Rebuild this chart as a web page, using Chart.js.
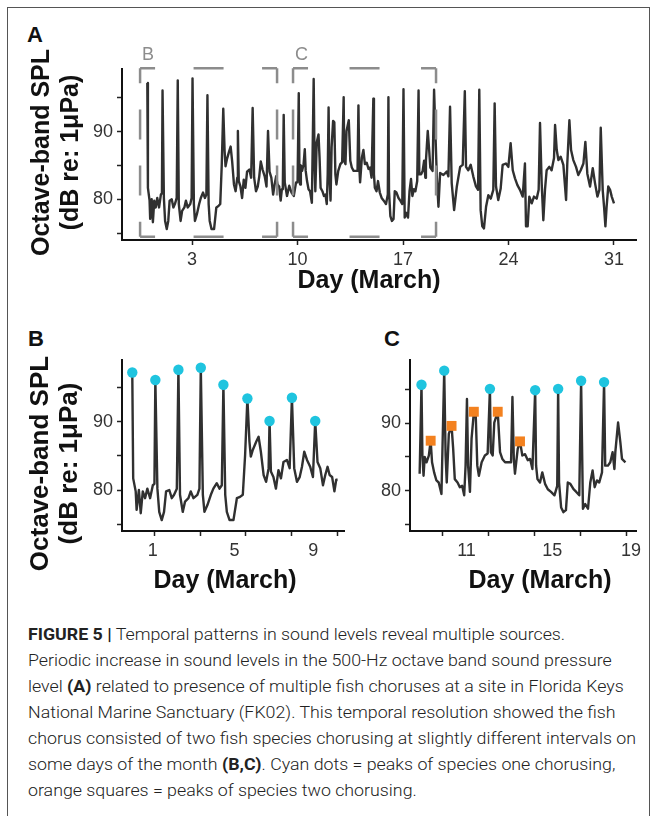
<!DOCTYPE html>
<html>
<head>
<meta charset="utf-8">
<title>Figure 5 - octave-band SPL</title>
<script src="https://cdn.jsdelivr.net/npm/chart.js@4.4.1/dist/chart.umd.min.js"></script>
<style>
  body { margin: 0; width: 657px; height: 816px; overflow: hidden; position: relative; background: #fff;
         font-family: 'Liberation Sans', Arial, sans-serif; }
  .frame { position: absolute; left: 7px; top: 7px; width: 643px; height: 840px; border: 1px solid #555; box-sizing: border-box; }
  canvas { position: absolute; }
  .panel { position: absolute; font-weight: bold; font-size: 22px; line-height: 1; color: #111; }
  .caption { position: absolute; left: 28px; top: 621px; transform-origin: 0 0; color: #222;
             font-family: Roboto, 'Liberation Sans', sans-serif; font-weight: 300; font-size: 17px; line-height: 26px; }
  .caption div { white-space: nowrap; }
  .caption span { display: inline-block; }
  .caption b { font-weight: 700; }
</style>
</head>
<body>
<div class="frame"></div>
<div class="panel" style="left:27px; top:24px;">A</div>
<div class="panel" style="left:28px; top:328px;">B</div>
<div class="panel" style="left:384px; top:328px;">C</div>

<canvas id="chartA" width="657" height="300" style="left:0; top:0;"></canvas>
<canvas id="chartB" width="350" height="310" style="left:0; top:300px;"></canvas>
<canvas id="chartC" width="317" height="310" style="left:340px; top:300px;"></canvas>

<div class="caption" id="caption">
  <div><span><b>FIGURE 5 |</b> Temporal patterns in sound levels reveal multiple sources.</span></div>
  <div><span>Periodic increase in sound levels in the 500-Hz octave band sound pressure</span></div>
  <div><span>level <b>(A)</b> related to presence of multiple fish choruses at a site in Florida Keys</span></div>
  <div><span>National Marine Sanctuary (FK02). This temporal resolution showed the fish</span></div>
  <div><span id="widest">chorus consisted of two fish species chorusing at slightly different intervals on</span></div>
  <div><span>some days of the month <b>(B,C)</b>. Cyan dots = peaks of species one chorusing,</span></div>
  <div><span>orange squares = peaks of species two chorusing.</span></div>
</div>

<script>
// ---- data: day of March (real time, peaks fall once a day) and 500-Hz octave-band SPL (dB) ----
const splDays = [
  0.03, 0.07, 0.18, 0.22, 0.32, 0.40, 0.49, 0.59, 0.69, 0.81, 0.93, 1.00,
  1.04, 1.13, 1.21, 1.32, 1.42, 1.51, 1.65, 1.76, 1.86, 1.98,
  2.05, 2.12, 2.24, 2.34, 2.49, 2.59, 2.71, 2.88, 2.97,
  3.03, 3.12, 3.19, 3.32, 3.47, 3.58, 3.73, 3.85, 3.95,
  4.02, 4.10, 4.17, 4.29, 4.46, 4.61, 4.75, 4.87, 4.97,
  5.07, 5.16, 5.22, 5.31, 5.46, 5.56, 5.66, 5.78, 5.89, 6.00,
  6.04, 6.10, 6.21, 6.32, 6.43, 6.54, 6.65, 6.80, 6.92,
  7.02, 7.12, 7.24, 7.36, 7.46, 7.56, 7.68, 7.82, 7.94,
  8.04, 8.14, 8.26, 8.38, 8.48, 8.58, 8.67, 8.78, 8.88, 8.96, 9.02,
  9.08, 9.15, 9.30, 9.45, 9.60, 9.75, 9.90, 10.00,
  10.08, 10.12, 10.17, 10.22, 10.30, 10.40, 10.48, 10.54, 10.63, 10.73, 10.83, 10.95,
  11.07, 11.13, 11.18, 11.27, 11.39, 11.46, 11.53, 11.65, 11.75, 11.85, 11.94, 12.00,
  12.06, 12.11, 12.19, 12.26, 12.36, 12.44, 12.51, 12.58, 12.70, 12.84, 12.96,
  13.06, 13.10, 13.18, 13.25, 13.40, 13.50, 13.60, 13.72, 13.86, 13.98,
  14.04, 14.10, 14.15, 14.27, 14.37, 14.47, 14.59, 14.71, 14.81, 14.91,
  15.03, 15.07, 15.13, 15.24, 15.34, 15.46, 15.58, 15.72, 15.87, 15.99,
  16.03, 16.07, 16.16, 16.26, 16.37, 16.45, 16.56, 16.70, 16.82, 16.95,
  17.03, 17.11, 17.21, 17.33, 17.43, 17.53, 17.62, 17.72, 17.82, 17.94,
  18.03, 18.08, 18.20, 18.30, 18.40, 18.48, 18.52, 18.64, 18.74, 18.81, 18.96,
  19.06, 19.24, 19.35, 19.46, 19.68, 19.90, 20.01,
  20.12, 20.23, 20.39, 20.57, 20.79, 20.96,
  21.10, 21.18, 21.33, 21.49, 21.66, 21.84, 21.98,
  22.06, 22.15, 22.26, 22.37, 22.51, 22.66, 22.82, 22.99,
  23.08, 23.17, 23.32, 23.48, 23.61, 23.83, 23.99,
  24.14, 24.28, 24.43, 24.59, 24.76, 24.94, 25.09, 25.16, 25.27, 25.38, 25.54, 25.69, 25.87, 26.00,
  26.09, 26.20, 26.31, 26.42, 26.53, 26.71, 26.86, 27.02,
  27.09, 27.20, 27.31, 27.46, 27.64, 27.82, 27.90,
  28.04, 28.15, 28.30, 28.48, 28.63, 28.79, 28.97,
  29.10, 29.23, 29.41, 29.59, 29.74, 29.90, 30.03,
  30.12, 30.25, 30.34, 30.43, 30.51, 30.62, 30.74, 30.85, 31.00
];
const splValues = [
  97.2, 81.7, 79.8, 77.1, 80.0, 76.6, 79.8, 78.8, 80.2, 78.8, 80.7, 80.9,
  96.1, 80.2, 76.8, 75.6, 76.8, 79.8, 80.0, 78.8, 79.3, 80.2,
  97.6, 79.3, 76.8, 78.3, 78.8, 79.8, 78.8, 79.3, 80.2,
  97.9, 79.3, 76.8, 77.8, 79.3, 80.2, 81.0, 80.2, 80.7,
  95.4, 79.3, 76.8, 75.6, 75.6, 78.8, 79.0, 79.3, 85.1,
  93.4, 87.1, 84.9, 85.9, 87.1, 87.8, 85.6, 82.2, 81.2, 83.2,
  90.1, 82.7, 81.9, 80.2, 82.9, 81.7, 84.1, 84.4, 83.2,
  93.5, 83.2, 81.2, 81.9, 83.4, 85.6, 84.4, 83.4, 81.9,
  90.1, 84.1, 83.2, 80.7, 82.2, 83.4, 82.2, 81.9, 79.8, 81.5, 81.5,
  92.5, 82.5, 80.5, 82.0, 81.0, 80.5, 82.5, 82.5,
  95.7, 85.2, 82.2, 85.0, 84.2, 85.2, 87.4, 84.2, 82.7, 81.5, 81.2, 79.5,
  97.8, 85.2, 81.2, 88.4, 89.6, 86.2, 81.7, 81.2, 80.5, 80.7, 79.3, 83.7,
  93.6, 83.7, 79.8, 87.7, 91.6, 91.4, 83.7, 82.2, 84.2, 85.2, 85.5,
  95.1, 85.7, 85.2, 90.1, 91.7, 85.7, 84.7, 84.2, 84.2, 84.2,
  93.9, 84.7, 82.5, 86.2, 87.3, 85.2, 85.4, 84.5, 84.7, 83.2,
  94.9, 83.7, 81.7, 81.2, 82.7, 81.0, 80.2, 79.8, 79.3, 80.7,
  95.1, 81.2, 77.5, 76.8, 77.1, 81.2, 81.0, 80.2, 79.8, 79.3,
  96.3, 77.3, 78.0, 77.3, 81.2, 83.0, 80.5, 81.5, 81.2, 82.7,
  96.1, 83.7, 83.7, 84.2, 85.7, 83.2, 85.7, 90.1, 87.1, 84.7, 84.2,
  96.2, 83.4, 78.9, 83.9, 83.6, 84.1, 83.4,
  93.7, 82.4, 78.4, 81.9, 84.8, 85.1,
  96.0, 84.8, 84.3, 85.1, 83.4, 81.9, 81.4,
  96.2, 78.4, 76.0, 75.7, 78.9, 80.6, 80.1, 81.4,
  94.2, 81.9, 79.9, 81.6, 85.1, 85.3, 84.8,
  88.3, 84.3, 83.1, 82.1, 81.4, 80.4, 85.3, 76.0, 76.0, 80.4, 79.4, 80.4, 80.1, 81.4,
  91.3, 82.4, 76.9, 81.4, 84.3, 84.8, 84.3, 86.1,
  91.0, 87.3, 85.8, 86.3, 85.1, 79.9, 85.3,
  91.7, 87.3, 85.8, 84.8, 83.6, 84.3, 85.3,
  88.5, 83.8, 81.9, 84.6, 82.4, 80.4, 81.4,
  90.6, 81.4, 78.9, 76.0, 78.9, 81.9, 81.4, 80.4, 79.4
];

// chorus peaks marked in panels B and C
const cyanDaysB = [0.03, 1.04, 2.05, 3.03, 4.02, 5.07, 6.04, 7.02, 8.04];
const cyanSplB  = [97.2, 96.1, 97.6, 97.9, 95.4, 93.4, 90.1, 93.5, 90.1];
const cyanDaysC = [10.08, 11.07, 13.06, 15.03, 16.03, 17.03, 18.03];
const cyanSplC  = [95.7, 97.8, 95.1, 94.9, 95.1, 96.3, 96.1];
const orangeDaysC = [10.48, 11.39, 12.36, 13.40, 14.37];
const orangeSplC  = [87.4, 89.6, 91.7, 91.7, 87.3];

// axis ticks
const yTicks = [75, 80, 85, 90, 95];
const yTickLabels = ['80', '90'];
const aTickDays = [3, 10, 17, 24, 31];
const bMarkDays = [1, 3, 5, 7, 9];
const bLabelDays = [0.93, 4.51, 7.95];
const bTickLabels = ['1', '5', '9'];
const cMarkDays = [11, 13, 15, 17, 19];
const cLabelDays = [12.04, 15.77, 19.2];
const cTickLabels = ['11', '15', '19'];

// zoom windows shown in A (days) and the part of the record each panel plots
const boxDays = [[-0.45, 8.64], [9.7, 19.19]];
const boxSpl = [74.45, 99.4];
const boxNames = ['B', 'C'];
const rangeB = [0, 9.02];
const rangeC = [10, 18.97];

const X_TITLE = 'Day (March)';
const Y_TITLE = ['Octave-band SPL', '(dB re: 1μPa)'];

const FONT = "'Liberation Sans', Arial, sans-serif";
const INK = '#303030';
const CYAN = '#1fc4df';
const ORANGE = '#f3811f';

function points(xs, ys, from, to) {
  const out = [];
  xs.forEach((x, i) => { if (x >= from && x <= to) out.push({ x: x, y: ys[i] }); });
  return out;
}

function dashedSide(ctx, x1, y1, x2, y2) {
  const len = Math.hypot(x2 - x1, y2 - y1), dash = 30;
  const n = Math.max(1, Math.round(len / 60)), period = len / n;
  ctx.setLineDash([dash, period - dash]);
  ctx.lineDashOffset = dash / 2;
  ctx.beginPath();
  ctx.moveTo(x1, y1);
  ctx.lineTo(x2, y2);
  ctx.stroke();
}

// dashed rectangles marking the windows of panels B and C
const zoomBoxes = {
  id: 'zoomBoxes',
  afterDatasetsDraw(chart) {
    const { ctx, scales: { x, y } } = chart;
    ctx.save();
    ctx.strokeStyle = '#8c8c8c';
    ctx.fillStyle = '#8c8c8c';
    ctx.lineWidth = 2.5;
    ctx.font = '18px ' + FONT;
    ctx.textAlign = 'left';
    ctx.textBaseline = 'bottom';
    boxDays.forEach((b, i) => {
      const l = x.getPixelForValue(b[0]), r = x.getPixelForValue(b[1]);
      const t = y.getPixelForValue(boxSpl[1]), btm = y.getPixelForValue(boxSpl[0]);
      dashedSide(ctx, l, t, r, t);
      dashedSide(ctx, l, btm, r, btm);
      dashedSide(ctx, l, t, l, btm);
      dashedSide(ctx, r, t, r, btm);
      ctx.fillText(boxNames[i], l + 2, t - 4);
    });
    ctx.restore();
  }
};

// axis titles; the printed figure has them a little off the axis centres
const axisTitles = {
  id: 'axisTitles',
  afterDraw(chart, args, o) {
    const { ctx, chartArea: area } = chart;
    ctx.save();
    ctx.fillStyle = '#111';
    ctx.textAlign = 'center';
    ctx.textBaseline = 'middle';
    ctx.font = 'bold 25px ' + FONT;
    ctx.fillText(X_TITLE, (area.left + area.right) / 2 + o.xShift, o.xTitleY);
    if (o.yTitle) {
      ctx.font = 'bold ' + o.ySize + 'px ' + FONT;
      ctx.translate(0, (area.top + area.bottom) / 2 + o.yShift);
      ctx.rotate(-Math.PI / 2);
      Y_TITLE.forEach((t, i) => ctx.fillText(t, 0, o.yTitleX[i]));
    }
    ctx.restore();
  }
};

const tickFont = { family: FONT, size: 18 };

function xScale(min, max, markDays, labelDays, labels, height) {
  const values = Array.from(new Set(markDays.concat(labelDays))).sort((a, b) => a - b);
  return {
    type: 'linear',
    min: min,
    max: max,
    afterBuildTicks: s => { s.ticks = values.map(v => ({ value: v })); },
    afterFit: s => { s.height = height; },
    ticks: {
      autoSkip: false, maxRotation: 0, padding: 4, color: '#333', font: tickFont,
      callback: v => { const i = labelDays.indexOf(v); return i >= 0 ? labels[i] : ''; }
    },
    grid: {
      drawOnChartArea: false, tickLength: 5, tickWidth: 1.5,
      tickColor: c => (c.tick && markDays.includes(c.tick.value)) ? '#222' : 'rgba(0,0,0,0)'
    },
    border: { color: '#111', width: 2 }
  };
}

function yScale(min, max, width) {
  return {
    type: 'linear',
    min: min,
    max: max,
    afterBuildTicks: s => { s.ticks = yTicks.map(v => ({ value: v })); },
    afterFit: s => { s.width = width; },
    ticks: {
      padding: 4, color: '#333', font: tickFont,
      callback: v => yTickLabels.includes(String(v)) ? String(v) : ''
    },
    grid: { drawOnChartArea: false, tickLength: 5, tickWidth: 1.5, tickColor: '#222' },
    border: { color: '#111', width: 2 }
  };
}

function lineSet(from, to) {
  return {
    data: points(splDays, splValues, from, to),
    showLine: true, borderColor: INK, borderWidth: 2.4, pointRadius: 0, tension: 0,
    borderJoinStyle: 'round'
  };
}

function markerSet(xs, ys, style, color, radius) {
  return {
    data: points(xs, ys, -Infinity, Infinity),
    showLine: false, pointStyle: style, pointRadius: radius,
    pointBackgroundColor: color, pointBorderWidth: 0
  };
}

function makeChart(id, datasets, x, y, padding, titles, extra) {
  return new Chart(document.getElementById(id), {
    type: 'scatter',
    data: { datasets: datasets },
    options: {
      responsive: false,
      animation: false,
      events: [],
      layout: { padding: padding },
      plugins: { legend: { display: false }, tooltip: { enabled: false }, axisTitles: titles },
      scales: { x: x, y: y }
    },
    plugins: [axisTitles].concat(extra || [])
  });
}

// A: whole month
makeChart('chartA',
  [lineSet(-Infinity, Infinity)],
  xScale(-1.65, 32.46, aTickDays, aTickDays, aTickDays.map(String), 60),
  yScale(73.98, 99.28, 102),
  { left: 20, right: 21, top: 69, bottom: 0 },
  { xShift: -10, xTitleY: 281, yTitle: true, ySize: 25, yShift: -2, yTitleX: [42, 71] },
  [zoomBoxes]);

// B: 1-9 March, species one
makeChart('chartB',
  [markerSet(cyanDaysB, cyanSplB, 'circle', CYAN, 5.2), lineSet(rangeB[0], rangeB[1])],
  xScale(-0.42, 9.3, bMarkDays, bLabelDays, bTickLabels, 79),
  yScale(74.0, 99.03, 102),
  { left: 20, right: 6, top: 60, bottom: 0 },
  { xShift: -8, xTitleY: 281, yTitle: true, ySize: 26, yShift: 18, yTitleX: [41, 70] });

// C: 10-19 March, both species
makeChart('chartC',
  [markerSet(cyanDaysC, cyanSplC, 'circle', CYAN, 5.2),
   markerSet(orangeDaysC, orangeSplC, 'rect', ORANGE, 7),
   lineSet(rangeC[0], rangeC[1])],
  xScale(9.58, 19.42, cMarkDays, cLabelDays, cTickLabels, 79),
  yScale(74.0, 99.38, 70),
  { left: 0, right: 21, top: 60, bottom: 0 },
  { xShift: 17, xTitleY: 281, yTitle: false });

// fit the caption's condensed type to the printed line length
const cap = document.getElementById('caption');
const natural = document.getElementById('widest').getBoundingClientRect().width;
cap.style.transform = 'scaleX(' + (608 / natural).toFixed(4) + ')';
</script>
</body>
</html>
